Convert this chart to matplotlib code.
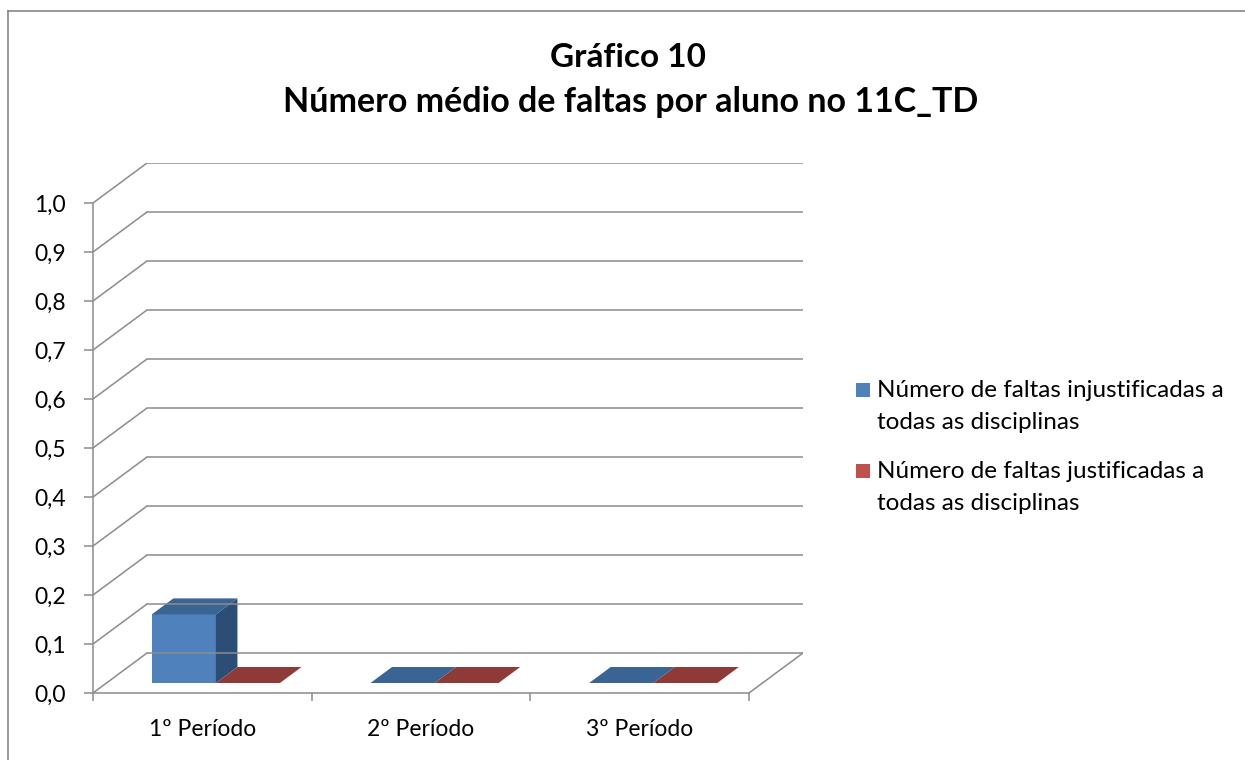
import matplotlib
matplotlib.use("Agg")
import matplotlib.pyplot as plt
from matplotlib.patches import Polygon, Rectangle
from matplotlib.lines import Line2D

plt.rcParams["font.family"] = ["Lato", "DejaVu Sans"]

# data
periods = ["1º Período", "2º Período", "3º Período"]
series_names = [
    "Número de faltas injustificadas a\ntodas as disciplinas",
    "Número de faltas justificadas a\ntodas as disciplinas",
]
injustificadas = [0.14, 0.0, 0.0]
justificadas = [0.0, 0.0, 0.0]
y_ticks = [0.0, 0.1, 0.2, 0.3, 0.4, 0.5, 0.6, 0.7, 0.8, 0.9, 1.0]
title_lines = ["Gráfico 10", "Número médio de faltas por aluno no 11C_TD"]

# style
W, H = 1245, 760
GRID = "#8C8C8C"
FACE = [("#4F81BD", "#3A6494", "#2C4D75"), ("#C0504D", "#8E3A37", "#6E2B29")]
DX, DY = 0.247, 0.0816          # depth offset of the back wall, in data units
GAP, BAR_W = 0.207, 0.293
D0, D1 = 0.25, 0.65             # bar depth span (fraction of floor depth)


def px(x, y):
    return x / W, 1 - y / H


fig = plt.figure(figsize=(W / 100, H / 100), dpi=100)
fig.add_artist(Line2D([8 / W, 8 / W], [0, 1 - 11 / H], color="#868686", lw=1.2))
fig.add_artist(Line2D([8 / W, 1], [1 - 11 / H, 1 - 11 / H], color="#868686", lw=1.2))

left, bottom = px(93, 693)
right, top = px(803, 163)
ax = fig.add_axes([left, bottom, right - left, top - bottom])
ax.set_xlim(0, len(periods) + DX)
ax.set_ylim(0, y_ticks[-1] + DY)

# walls and floor
n = len(periods)
for v in y_ticks:
    ax.plot([0, DX], [v, v + DY], color=GRID, lw=1.1, solid_capstyle="butt")
    ax.plot([DX, n + DX], [v + DY, v + DY], color=GRID, lw=1.1)
ax.plot([n, n + DX], [0, DY], color=GRID, lw=1.1)

# bars
ddx, ddy = (D1 - D0) * DX, (D1 - D0) * DY
for i in range(n):
    for j, vals in enumerate([injustificadas, justificadas]):
        v = vals[i]
        front, topc, side = FACE[j]
        x0 = i + GAP + j * BAR_W + D0 * DX
        y0 = D0 * DY
        x1 = x0 + BAR_W
        if v > 0:
            ax.add_patch(Polygon([(x0, y0), (x1, y0), (x1, y0 + v), (x0, y0 + v)],
                                 closed=True, fc=front, ec="none"))
            ax.add_patch(Polygon([(x1, y0), (x1 + ddx, y0 + ddy), (x1 + ddx, y0 + v + ddy), (x1, y0 + v)],
                                 closed=True, fc=side, ec="none"))
        ax.add_patch(Polygon([(x0, y0 + v), (x1, y0 + v), (x1 + ddx, y0 + v + ddy), (x0 + ddx, y0 + v + ddy)],
                             closed=True, fc=topc, ec="none"))

# axes
for s in ["top", "right"]:
    ax.spines[s].set_visible(False)
ax.spines["left"].set_color(GRID)
ax.spines["bottom"].set_color(GRID)
ax.spines["left"].set_linewidth(1.1)
ax.spines["bottom"].set_linewidth(1.1)
ax.spines["left"].set_bounds(0, y_ticks[-1])
ax.spines["bottom"].set_bounds(0, n)
ax.set_yticks(y_ticks)
ax.set_yticklabels([f"{v:.1f}".replace(".", ",") for v in y_ticks], fontsize=16.5)
ax.set_xticks(range(n + 1))
ax.set_xticklabels([])
ax.set_xticks([i + 0.5 for i in range(n)], minor=True)
ax.set_xticklabels(periods, minor=True, fontsize=16.5)
ax.tick_params(axis="y", length=6.5, width=1.1, color=GRID, pad=13)
ax.tick_params(axis="x", which="major", length=6, width=1.1, color=GRID)
ax.tick_params(axis="x", which="minor", length=0, pad=19)
ax.set_facecolor("none")

# title
fig.text(*px(628, 67), title_lines[0], ha="center", va="baseline", fontsize=24, fontweight="bold")
fig.text(*px(631, 112), title_lines[1], ha="center", va="baseline", fontsize=24.5, fontweight="bold")

# legend
legend_colors = [FACE[0][0], FACE[1][0]]
baselines = [397, 478]
for name, col, yb in zip(series_names, legend_colors, baselines):
    fig.add_artist(Rectangle(px(856, yb), 14 / W, 14 / H, transform=fig.transFigure,
                             fc=col, ec="none"))
    for k, line in enumerate(name.split("\n")):
        fig.text(*px(877, yb + k * 32), line, ha="left", va="baseline", fontsize=17.5)

fig.savefig("out.png", dpi=100)
